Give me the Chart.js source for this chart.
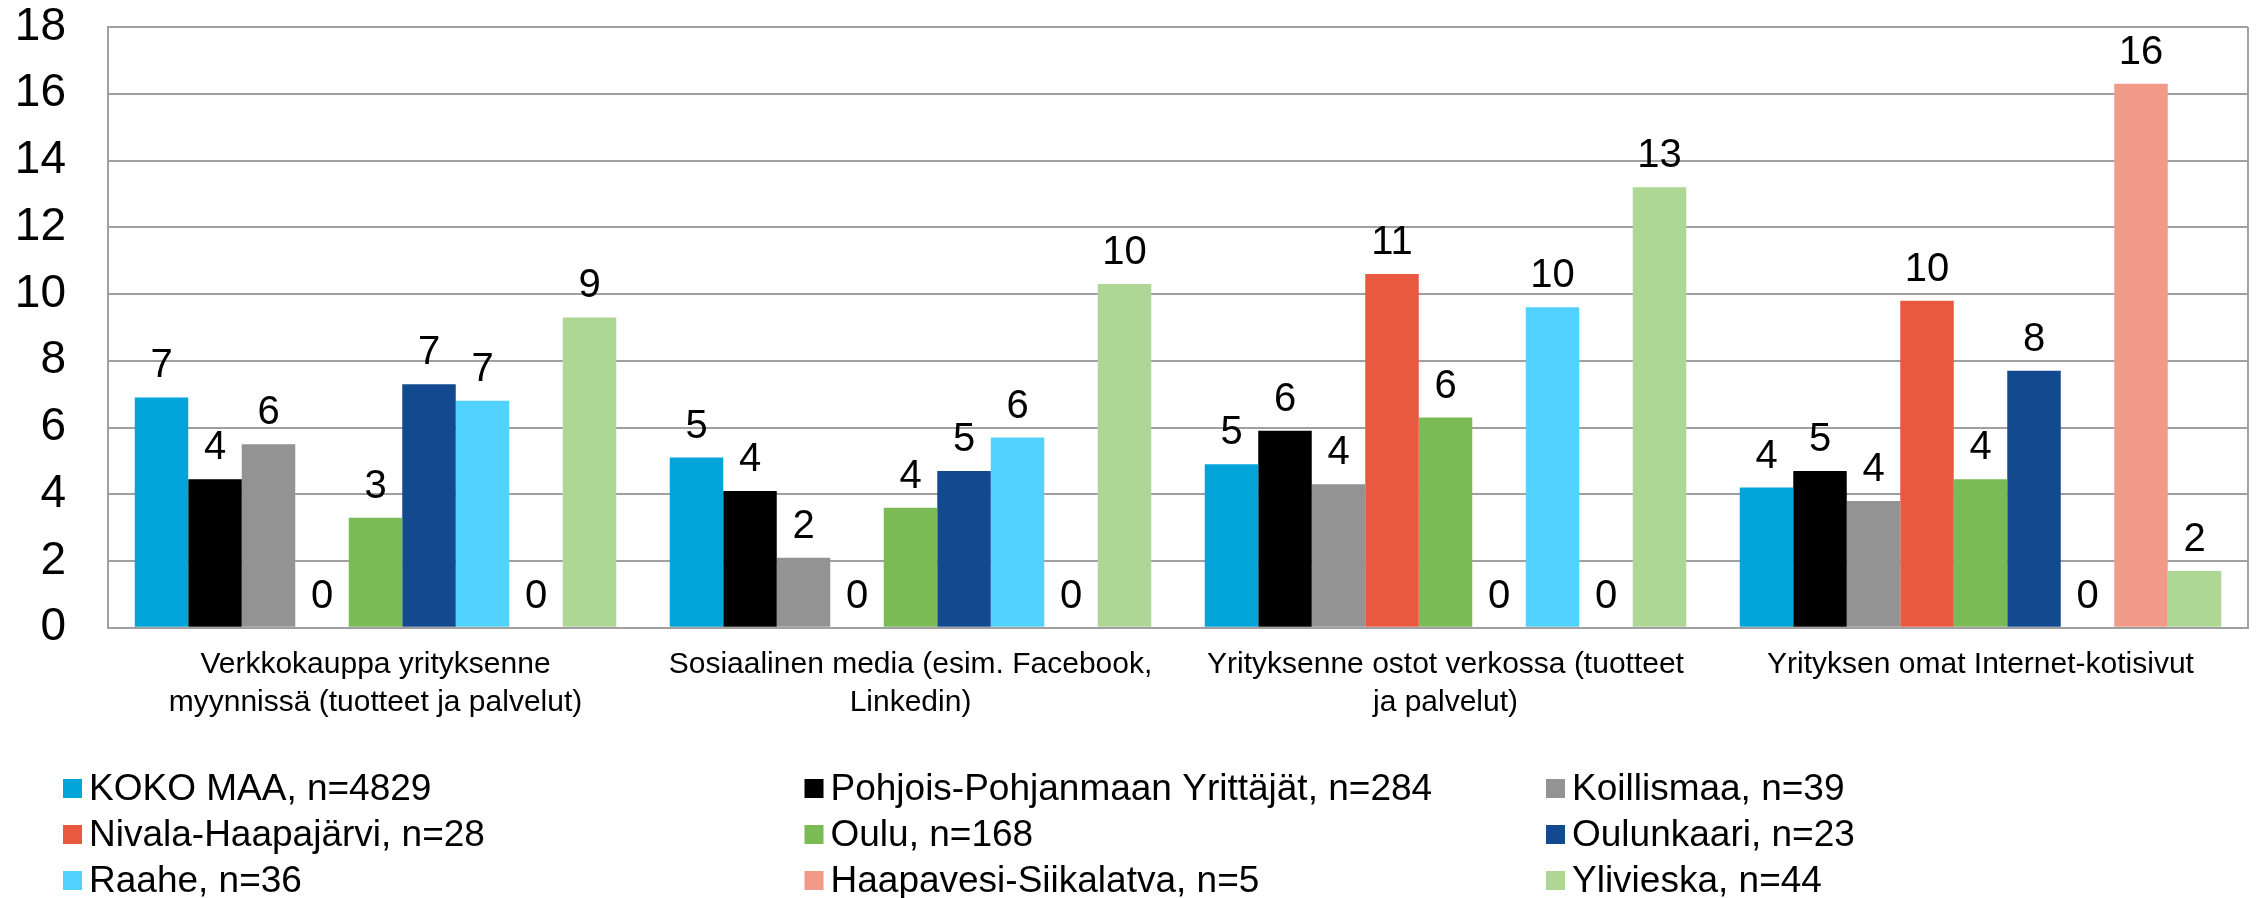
<!DOCTYPE html>
<html>
<head>
<meta charset="utf-8">
<script src="https://cdn.jsdelivr.net/npm/chart.js@4"></script>
<style>
  html, body { margin: 0; padding: 0; background: #fff; }
  canvas { display: block; }
</style>
</head>
<body>
<canvas id="chart" width="2257" height="898"></canvas>
<script>
// categories (x axis), two-line labels as in the original
var categories = [
  ["Verkkokauppa yrityksenne", "myynnissä (tuotteet ja palvelut)"],
  ["Sosiaalinen media (esim. Facebook,", "Linkedin)"],
  ["Yrityksenne ostot verkossa (tuotteet", "ja palvelut)"],
  "Yrityksen omat Internet-kotisivut"
];

var seriesNames = [
  "KOKO MAA, n=4829",
  "Pohjois-Pohjanmaan Yrittäjät, n=284",
  "Koillismaa, n=39",
  "Nivala-Haapajärvi, n=28",
  "Oulu, n=168",
  "Oulunkaari, n=23",
  "Raahe, n=36",
  "Haapavesi-Siikalatva, n=5",
  "Ylivieska, n=44"
];

var seriesColors = [
  "#03a4da", "#000000", "#939393", "#e85940", "#7bbb56",
  "#134a8f", "#52d3ff", "#f29a8a", "#aed796"
];

// values per series
var kokoMaa = [6.9, 5.1, 4.9, 4.2];
var pohjoisPohjanmaa = [4.45, 4.1, 5.9, 4.7];
var koillismaa = [5.5, 2.1, 4.3, 3.8];
var nivalaHaapajarvi = [0, 0, 10.6, 9.8];
var oulu = [3.3, 3.6, 6.3, 4.45];
var oulunkaari = [7.3, 4.7, 0, 7.7];
var raahe = [6.8, 5.7, 9.6, 0];
var haapavesiSiikalatva = [0, 0, 0, 16.3];
var ylivieska = [9.3, 10.3, 13.2, 1.7];

var yTicks = [0, 2, 4, 6, 8, 10, 12, 14, 16, 18];

var seriesValues = [kokoMaa, pohjoisPohjanmaa, koillismaa, nivalaHaapajarvi,
  oulu, oulunkaari, raahe, haapavesiSiikalatva, ylivieska];

var FONT = "'Liberation Sans', Arial, sans-serif";
var GRID = "#a0a0a0";

var datasets = [];
for (var i = 0; i < seriesNames.length; i++) {
  datasets.push({
    label: seriesNames[i],
    data: seriesValues[i],
    backgroundColor: seriesColors[i],
    borderWidth: 0,
    categoryPercentage: 0.9,
    barPercentage: 1.0
  });
}

// numbers above the bars
var valueLabels = {
  id: 'valueLabels',
  afterDatasetsDraw: function (chart) {
    var ctx = chart.ctx;
    ctx.save();
    ctx.font = "40px " + FONT;
    ctx.fillStyle = "#000";
    ctx.textAlign = "center";
    ctx.textBaseline = "alphabetic";
    chart.data.datasets.forEach(function (ds, di) {
      var meta = chart.getDatasetMeta(di);
      meta.data.forEach(function (bar, idx) {
        ctx.fillText(String(Math.round(ds.data[idx])), bar.x, bar.y - 20);
      });
    });
    ctx.restore();
  }
};

// right edge of the plot box
var plotBox = {
  id: 'plotBox',
  beforeDatasetsDraw: function (chart) {
    var a = chart.chartArea;
    var ctx = chart.ctx;
    ctx.save();
    ctx.strokeStyle = GRID;
    ctx.lineWidth = 2;
    ctx.beginPath();
    ctx.moveTo(a.right, a.top);
    ctx.lineTo(a.right, a.bottom);
    ctx.stroke();
    ctx.restore();
  }
};

// legend laid out in three aligned columns
var gridLegend = {
  id: 'gridLegend',
  afterDraw: function (chart) {
    var ctx = chart.ctx;
    var colX = 63, colW = 741.5;
    var rowY = chart.height - 110, rowH = 46;
    ctx.save();
    ctx.font = "37px " + FONT;
    ctx.textBaseline = "middle";
    ctx.textAlign = "left";
    chart.data.datasets.forEach(function (ds, i) {
      var c = i % 3, r = Math.floor(i / 3);
      var x = colX + c * colW, y = rowY + r * rowH;
      ctx.fillStyle = ds.backgroundColor;
      ctx.fillRect(x, y - 9, 19, 19);
      ctx.fillStyle = "#000";
      ctx.fillText(ds.label, x + 26, y + 2);
    });
    ctx.restore();
  }
};

new Chart(document.getElementById("chart"), {
  type: 'bar',
  data: {
    labels: categories,
    datasets: datasets
  },
  plugins: [plotBox, valueLabels, gridLegend],
  options: {
    responsive: false,
    animation: false,
    layout: {
      padding: { left: 13, right: 9, top: 27, bottom: 158 }
    },
    plugins: {
      legend: { display: false },
      tooltip: { enabled: false }
    },
    scales: {
      x: {
        grid: { display: false, drawTicks: false },
        border: { display: true, color: GRID, width: 2 },
        ticks: {
          color: "#000",
          font: { family: FONT, size: 30, lineHeight: 1.27 },
          padding: 18,
          maxRotation: 0,
          autoSkip: false
        }
      },
      y: {
        min: yTicks[0],
        max: yTicks[yTicks.length - 1],
        afterBuildTicks: function (axis) {
          axis.ticks = yTicks.map(function (v) { return { value: v }; });
        },
        afterFit: function (axis) {
          axis.width = 95;
          axis.paddingTop = 0;
          axis.paddingBottom = 0;
        },
        grid: { color: GRID, lineWidth: 2, drawTicks: false },
        border: { display: true, color: GRID, width: 2 },
        ticks: {
          color: "#000",
          font: { family: FONT, size: 46 },
          padding: 42
        }
      }
    }
  }
});
</script>
</body>
</html>
